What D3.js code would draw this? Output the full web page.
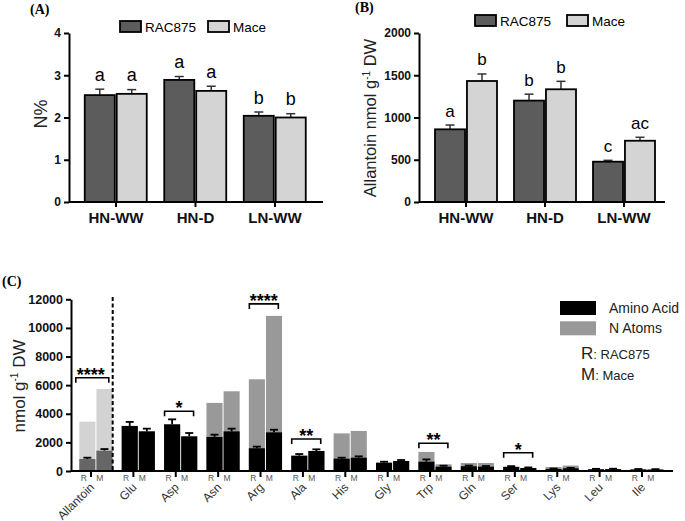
<!DOCTYPE html>
<html>
<head>
<meta charset="utf-8">
<script src="https://cdn.jsdelivr.net/npm/d3@7/dist/d3.min.js"></script>
<style>
	body { margin: 0; background: #fff; }
	svg { display: block; font-family: Arial, 'Liberation Sans', sans-serif; }
</style>
</head>
<body>
<svg id="chart" width="685" height="521"></svg>
<script>
// panels A and B
let conditions = ['HN-WW', 'HN-D', 'LN-WW'];
let cultivars = ['RAC875', 'Mace'];

let nPercentRac = [2.53, 2.89, 2.04];
let nPercentRacErr = [0.14, 0.08, 0.09];
let nPercentMace = [2.56, 2.63, 2.00];
let nPercentMaceErr = [0.10, 0.11, 0.09];
let nLettersRac = ['a', 'a', 'b'];
let nLettersMace = ['a', 'a', 'b'];

let allantoinRac = [860, 1200, 477];
let allantoinRacErr = [51, 76, 16];
let allantoinMace = [1432, 1334, 725];
let allantoinMaceErr = [83, 94, 41];
let allantoinLettersRac = ['a', 'b', 'c'];
let allantoinLettersMace = ['b', 'b', 'ac'];

// panel C
let compounds = ['Allantoin', 'Glu', 'Asp', 'Asn', 'Arg', 'Ala', 'His', 'Gly', 'Trp', 'Gln', 'Ser', 'Lys', 'Leu', 'Ile'];
let aminoRac = [840, 3150, 3260, 2380, 1590, 1070, 860, 580, 650, 330, 290, 140, 120, 110];
let aminoRacErr = [90, 280, 350, 160, 115, 115, 70, 70, 160, 50, 50, 30, 30, 30];
let aminoMace = [1420, 2770, 2420, 2770, 2700, 1400, 930, 700, 300, 300, 210, 190, 130, 100];
let aminoMaceErr = [115, 190, 235, 190, 185, 115, 95, 70, 70, 50, 40, 30, 30, 30];
let nAtomsRac = [3450, 3150, 3260, 4760, 6410, 1070, 2630, 580, 1330, 560, 290, 280, 120, 110];
let nAtomsMace = [5730, 2770, 2420, 5570, 10840, 1400, 2800, 700, 470, 560, 210, 380, 130, 100];

let sigCompounds = ['Allantoin', 'Asp', 'Arg', 'Ala', 'Trp', 'Ser'];
let sigStars = ['****', '*', '****', '**', '**', '*'];
let sigLevels = [6520, 4180, 11680, 2240, 1940, 1280];

let svg = d3.select('#chart');

let darkFill = '#5c5c5c';
let lightFill = '#d4d4d4';
let plain = d3.format('d');

function styleAxis(ax, size, bold) {
	ax.attr('font-family', null).attr('font-size', null);
	ax.select('.domain').attr('stroke-width', 2);
	ax.selectAll('.tick line').attr('stroke-width', 2);
	ax.selectAll('.tick text')
		.style('font-size', size + 'px')
		.style('font-weight', bold ? 'bold' : null)
		.attr('fill', '#111')
	;
}

function drawBarPanel(p) {
	let g = svg.append('g');

	let x = d3.scaleBand()
		.domain(conditions)
		.range(p.band)
	;
	let sub = d3.scaleBand()
		.domain(cultivars)
		.range([8.5, 70.5])
		.paddingInner(0.06)
	;
	let y = d3.scaleLinear()
		.domain([0, p.max])
		.range([202, 33])
	;

	cultivars.forEach((c, ci) => {
		let rows = conditions.map((k, i) => ({
			k: k,
			v: p.values[ci][i],
			e: p.errors[ci][i],
			l: p.letters[ci][i]
		}));
		let bx = d => x(d.k) + sub(c);
		let cx = d => bx(d) + sub.bandwidth() / 2;

		let bars = g.selectAll('.bar' + ci)
			.data(rows)
			.enter()
		;

		bars.append('line')
			.attr('x1', cx)
			.attr('x2', cx)
			.attr('y1', d => y(d.v))
			.attr('y2', d => y(d.v + d.e))
			.attr('stroke', '#333')
			.attr('stroke-width', 1.5)
		;
		bars.append('line')
			.attr('x1', d => cx(d) - 4.5)
			.attr('x2', d => cx(d) + 4.5)
			.attr('y1', d => y(d.v + d.e))
			.attr('y2', d => y(d.v + d.e))
			.attr('stroke', '#333')
			.attr('stroke-width', 1.5)
		;
		bars.append('rect')
			.attr('x', bx)
			.attr('y', d => y(d.v))
			.attr('width', sub.bandwidth())
			.attr('height', d => y(0) - y(d.v))
			.attr('fill', ci == 0 ? darkFill : lightFill)
			.attr('stroke', '#000')
			.attr('stroke-width', 1.8)
		;
		bars.append('text')
			.attr('x', cx)
			.attr('y', d => y(d.v + d.e) - 8.5)
			.attr('text-anchor', 'middle')
			.style('font-size', p.letterSize + 'px')
			.text(d => d.l)
		;
	});

	let yAxis = g.append('g')
		.attr('transform', 'translate(' + p.axisX0 + ',0)')
		.call(d3.axisLeft(y).tickValues(p.ticks).tickFormat(plain).tickSize(5).tickSizeOuter(0).tickPadding(3))
	;
	styleAxis(yAxis, 12, true);

	let xAxis = g.append('g')
		.attr('transform', 'translate(0,202)')
		.call(d3.axisBottom(x).tickSize(5).tickSizeOuter(0))
	;
	styleAxis(xAxis, 15, true);
	xAxis.select('.domain').remove();
	xAxis.selectAll('.tick text')
		.attr('y', 21)
		.attr('dy', 0)
	;
	g.append('line')
		.attr('x1', p.axisX0)
		.attr('x2', p.axisX1)
		.attr('y1', 202)
		.attr('y2', 202)
		.attr('stroke', '#000')
		.attr('stroke-width', 2)
	;

	// legend
	cultivars.forEach((c, ci) => {
		g.append('rect')
			.attr('x', p.legendX[ci])
			.attr('y', p.legendY)
			.attr('width', 21)
			.attr('height', 11)
			.attr('fill', ci == 0 ? darkFill : lightFill)
			.attr('stroke', '#000')
			.attr('stroke-width', 1.8)
		;
		g.append('text')
			.attr('x', p.legendX[ci] + 25)
			.attr('y', p.legendY + 11)
			.style('font-size', '13.5px')
			.text(c)
		;
	});

	g.append('text')
		.attr('x', p.titleX)
		.attr('y', p.titleY)
		.style('font-family', "'Times New Roman', 'Liberation Serif', serif")
		.style('font-weight', 'bold')
		.style('font-size', '14px')
		.text(p.title)
	;

	let yl = g.append('text')
		.attr('transform', 'translate(' + p.labelX + ',' + p.labelY + ') rotate(-90)')
		.attr('text-anchor', 'middle')
		.style('font-size', p.labelSize + 'px')
		.attr('fill', '#222')
	;
	p.label.forEach(part => {
		yl.append('tspan')
			.attr('dy', part.sup ? -6 : (part.after ? 6 : 0))
			.style('font-size', part.sup ? '10px' : null)
			.text(part.t)
		;
	});
}

drawBarPanel({
	band: [76.25, 314.75],
	max: 4,
	ticks: [0, 1, 2, 3, 4],
	values: [nPercentRac, nPercentMace],
	errors: [nPercentRacErr, nPercentMaceErr],
	letters: [nLettersRac, nLettersMace],
	letterSize: 18,
	axisX0: 69,
	axisX1: 323,
	legendX: [120, 208],
	legendY: 21,
	title: '(A)',
	titleX: 30,
	titleY: 14,
	label: [{t: 'N%'}],
	labelX: 47,
	labelY: 114,
	labelSize: 18
});

drawBarPanel({
	band: [426.5, 663.5],
	max: 2000,
	ticks: [0, 500, 1000, 1500, 2000],
	values: [allantoinRac, allantoinMace],
	errors: [allantoinRacErr, allantoinMaceErr],
	letters: [allantoinLettersRac, allantoinLettersMace],
	letterSize: 17,
	axisX0: 419,
	axisX1: 665,
	legendX: [475, 567],
	legendY: 15,
	title: '(B)',
	titleX: 355,
	titleY: 12,
	label: [{t: 'Allantoin nmol g'}, {t: '-1', sup: true}, {t: ' DW', after: true}],
	labelX: 376,
	labelY: 118,
	labelSize: 16.5
});

// panel C
let gc = svg.append('g');

let xC = d3.scaleBand()
	.domain(compounds)
	.range([74.8, 668.2])
;
let subC = d3.scaleBand()
	.domain(['R', 'M'])
	.range([4.5, 37.7])
	.paddingInner(0.06)
;
let yC = d3.scaleLinear()
	.domain([0, 12000])
	.range([471, 299.3])
;

let seriesC = [
	{key: 'R', amino: aminoRac, err: aminoRacErr, atoms: nAtomsRac},
	{key: 'M', amino: aminoMace, err: aminoMaceErr, atoms: nAtomsMace}
];

seriesC.forEach(s => {
	let rows = compounds.map((c, i) => ({c: c, a: s.amino[i], e: s.err[i], n: s.atoms[i]}));
	let bx = d => xC(d.c) + subC(s.key);
	let cx = d => bx(d) + subC.bandwidth() / 2;

	let bars = gc.selectAll('.c' + s.key)
		.data(rows)
		.enter()
	;

	bars.append('rect')
		.attr('x', bx)
		.attr('y', d => yC(d.n))
		.attr('width', subC.bandwidth())
		.attr('height', d => yC(0) - yC(d.n))
		.attr('fill', d => d.c == 'Allantoin' ? '#d3d3d3' : '#999')
	;
	bars.append('line')
		.attr('x1', cx)
		.attr('x2', cx)
		.attr('y1', d => yC(d.a))
		.attr('y2', d => yC(d.a + d.e))
		.attr('stroke', '#000')
		.attr('stroke-width', 1.8)
	;
	bars.append('line')
		.attr('x1', d => cx(d) - 4)
		.attr('x2', d => cx(d) + 4)
		.attr('y1', d => yC(d.a + d.e))
		.attr('y2', d => yC(d.a + d.e))
		.attr('stroke', '#000')
		.attr('stroke-width', 1.8)
	;
	bars.append('rect')
		.attr('x', bx)
		.attr('y', d => yC(d.a))
		.attr('width', subC.bandwidth())
		.attr('height', d => yC(0) - yC(d.a))
		.attr('fill', d => d.c == 'Allantoin' ? '#666' : '#000')
	;
	bars.append('text')
		.attr('x', d => xC(d.c) + (s.key == 'R' ? 9 : 25))
		.attr('y', 481)
		.attr('text-anchor', 'middle')
		.style('font-size', '8.5px')
		.attr('fill', '#555')
		.text(s.key)
	;
});

// significance brackets
let sig = sigCompounds.map((c, i) => ({c: c, s: sigStars[i], v: sigLevels[i]}));
let brackets = gc.selectAll('.sig')
	.data(sig)
	.enter()
	.append('g')
;
brackets.append('path')
	.attr('d', d => {
		let x0 = xC(d.c) + (d.c == 'Allantoin' ? 1 : 5);
		let x1 = xC(d.c) + 34;
		let y0 = yC(d.v);
		return 'M' + x0 + ',' + (y0 + 5) + 'V' + y0 + 'H' + x1 + 'V' + (y0 + 5);
	})
	.attr('fill', 'none')
	.attr('stroke', '#000')
	.attr('stroke-width', 1.6)
;
brackets.append('text')
	.attr('x', d => xC(d.c) + (d.c == 'Allantoin' ? 16 : 19.5))
	.attr('y', d => yC(d.v) + 3)
	.attr('text-anchor', 'middle')
	.style('font-size', '18px')
	.style('font-weight', 'bold')
	.text(d => d.s)
;

let yAxisC = gc.append('g')
	.attr('transform', 'translate(71,0)')
	.call(d3.axisLeft(yC).tickValues(d3.range(0, 12001, 2000)).tickFormat(plain).tickSize(5).tickSizeOuter(0).tickPadding(3))
;
styleAxis(yAxisC, 12.5, true);

// ticks sit a little left of the group centres in the original
let xTickScale = xC.copy().range([69.8, 663.2]);
let xAxisC = gc.append('g')
	.attr('transform', 'translate(0,471)')
	.call(d3.axisBottom(xTickScale).tickSize(6).tickSizeOuter(0))
;
styleAxis(xAxisC, 12, false);
xAxisC.select('.domain').remove();
xAxisC.selectAll('.tick text')
	.attr('y', 0)
	.attr('dy', 0)
	.attr('transform', 'translate(4,17) rotate(-45)')
	.attr('text-anchor', 'end')
	.attr('fill', '#333')
;
gc.append('line')
	.attr('x1', 71)
	.attr('x2', 673)
	.attr('y1', 471)
	.attr('y2', 471)
	.attr('stroke', '#000')
	.attr('stroke-width', 2)
;

// dashed divider after allantoin
let divX = xC('Glu') - 4.5;
gc.append('line')
	.attr('x1', divX)
	.attr('x2', divX)
	.attr('y1', 297)
	.attr('y2', 471)
	.attr('stroke', '#000')
	.attr('stroke-width', 2)
	.attr('stroke-dasharray', '4,2.5')
;

gc.append('text')
	.attr('x', 2)
	.attr('y', 286)
	.style('font-family', "'Times New Roman', 'Liberation Serif', serif")
	.style('font-weight', 'bold')
	.style('font-size', '14px')
	.text('(C)')
;

let ylC = gc.append('text')
	.attr('transform', 'translate(25,386) rotate(-90)')
	.attr('text-anchor', 'middle')
	.style('font-size', '17px')
	.attr('fill', '#222')
;
ylC.append('tspan').text('nmol g');
ylC.append('tspan').attr('dy', -7).style('font-size', '10px').text('-1');
ylC.append('tspan').attr('dy', 7).text(' DW');

// legend C
let legendC = [{t: 'Amino Acid', f: '#000'}, {t: 'N Atoms', f: '#999'}];
gc.selectAll('.legc')
	.data(legendC)
	.enter()
	.append('rect')
	.attr('x', 560)
	.attr('y', (d, i) => 301 + i * 20.3)
	.attr('width', 36)
	.attr('height', 14)
	.attr('fill', d => d.f)
;
gc.selectAll('.legct')
	.data(legendC)
	.enter()
	.append('text')
	.attr('x', 609)
	.attr('y', (d, i) => 313 + i * 20)
	.style('font-size', '14px')
	.attr('fill', '#222')
	.text(d => d.t)
;

let keyC = [{k: 'R', t: ': RAC875'}, {k: 'M', t: ': Mace'}];
keyC.forEach((d, i) => {
	let t = gc.append('text')
		.attr('x', 581)
		.attr('y', 359 + i * 21)
		.attr('fill', '#222')
	;
	t.append('tspan').style('font-size', '17px').text(d.k);
	t.append('tspan').style('font-size', '13px').text(d.t);
});
</script>
</body>
</html>
